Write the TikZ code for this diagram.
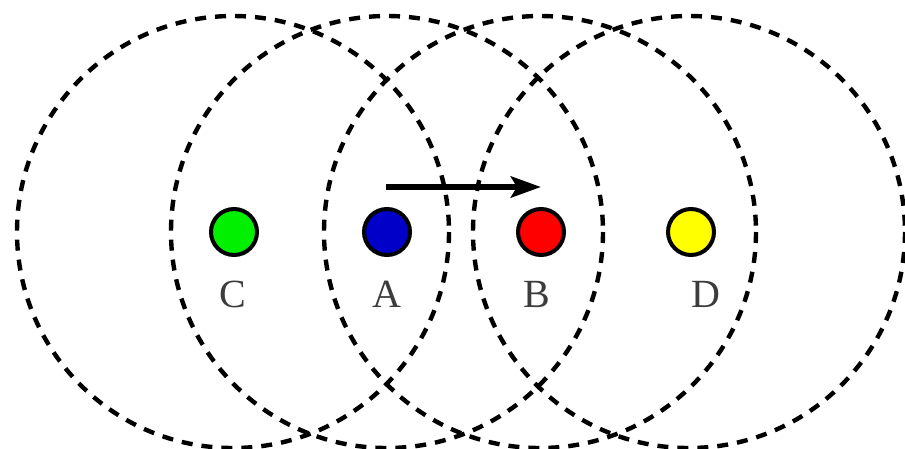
\documentclass[tikz,border=0pt]{standalone}
\usepackage{fontspec}
\setmainfont{Liberation Serif}
\usetikzlibrary{arrows.meta}
\definecolor{dotgreen}{RGB}{0,240,0}
\definecolor{dotblue}{RGB}{0,0,200}
\definecolor{dotred}{RGB}{255,0,0}
\definecolor{dotyellow}{RGB}{255,255,0}
\definecolor{labgray}{RGB}{60,60,60}
\tikzset{
  rangering/.style={draw=black, line width=4.4pt, dash pattern=on 11pt off 9pt},
  station/.style={circle, draw=black, line width=4pt, minimum size=46pt, inner sep=0pt},
  lab/.style={font=\fontsize{40}{40}\selectfont, text=labgray, inner sep=0pt, anchor=base},
  movearrow/.style={line width=6.5pt, -{Stealth[length=30pt,width=21pt,inset=6pt]}}
}
\begin{document}
\begin{tikzpicture}[x=1pt,y=-1pt]
\useasboundingbox (0,0) rectangle (905,448);
\fill[white] (0,0) rectangle (905,448);
\begin{scope}
\clip (0,0) rectangle (905,448);
\draw[rangering] (233,232) circle[radius=216];
\draw[rangering] (387,232) circle[radius=216];
\draw[rangering] (540,232) circle[radius=216];
\draw[rangering] (689,232) circle[radius=216];
\end{scope}
\node[station, fill=dotgreen] (C) at (234,232) {};
\node[station, fill=dotblue] (A) at (387,232) {};
\node[station, fill=dotred] (B) at (541,232) {};
\node[station, fill=dotyellow] (D) at (691,232) {};
\node[lab] (lC) at (233,307) {C};
\node[lab] (lA) at (387,307) {A};
\node[lab] (lB) at (537,307) {B};
\node[lab] (lD) at (706,307) {D};
\coordinate (s) at (386,187);
\coordinate (e) at (541,187);
\draw[movearrow] (s) -- (e);
\end{tikzpicture}
\end{document}
